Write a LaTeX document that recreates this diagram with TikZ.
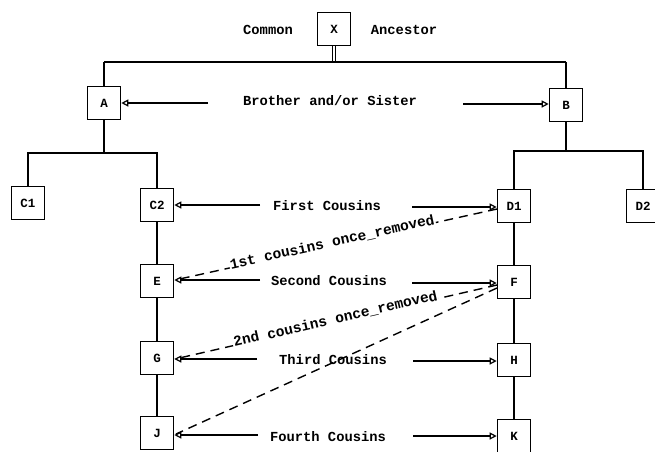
\documentclass[tikz,border=0pt]{standalone}
\usepackage{fontspec}
\setmainfont{Liberation Mono}
\usetikzlibrary{arrows.meta}
\tikzset{
  person/.style={draw, line width=1.6pt, minimum size=33pt, inner sep=0pt, font=\bfseries\fontsize{12.5}{15}\selectfont},
  tree/.style={line width=1.6pt},
  lbl/.style={inner sep=1pt, font=\bfseries\fontsize{13.8}{16}\selectfont},
  arr/.style={line width=1.4pt, -{Triangle[open, length=7pt, width=7pt, line width=1.2pt]}},
  rel/.style={line width=1.4pt, dash pattern=on 9pt off 6pt},
  rellbl/.style={sloped, fill=white, inner sep=1pt, yshift=3pt, font=\bfseries\fontsize{14.5}{16}\selectfont}
}
\begin{document}
\begin{tikzpicture}[x=1pt,y=-1pt]
\useasboundingbox (0,0) rectangle (655,451);
\fill[white] (0,0) rectangle (655,451);
% people
\node[person] (X) at (334,29) {X};
\node[person] (A) at (104,103) {A};
\node[person] (B) at (566,105) {B};
\node[person] (C1) at (28,203) {C1};
\node[person] (C2) at (157,205) {C2};
\node[person] (D1) at (514,206) {D1};
\node[person] (D2) at (643,206) {D2};
\node[person] (E) at (157,281) {E};
\node[person] (F) at (514,282) {F};
\node[person] (G) at (157,358) {G};
\node[person] (H) at (514,360) {H};
\node[person] (J) at (157,433) {J};
\node[person] (K) at (514,436) {K};
% titles
\node[lbl] (common) at (268,30) {Common};
\node[lbl] (ancestor) at (404,30) {Ancestor};
\node[lbl] (sib) at (330,101) {Brother and/or Sister};
\node[lbl] (first) at (327,206) {First Cousins};
\node[lbl] (second) at (329,281) {Second Cousins};
\node[lbl] (third) at (333,360) {Third Cousins};
\node[lbl] (fourth) at (328,437) {Fourth Cousins};
% tree coordinates
\coordinate (xb) at (334,62);
\coordinate (tl) at (104,62);
\coordinate (tr) at (566,62);
\coordinate (ab) at (104,153);
\coordinate (al) at (28,153);
\coordinate (ar) at (157,153);
\coordinate (bb) at (566,151);
\coordinate (bl) at (514,151);
\coordinate (br) at (643,151);
% tree lines
\draw[line width=1pt, double, double distance=2.5pt] (X.south) -- (xb);
\draw[tree] (tl) -- (tr);
\draw[tree] (tl) -- (A.north);
\draw[tree] (tr) -- (B.north);
\draw[tree] (A.south) -- (ab);
\draw[tree] (C1.north) |- (al) -- (ar) -- (C2.north);
\draw[tree] (B.south) -- (bb);
\draw[tree] (D1.north) |- (bl) -- (br) -- (D2.north);
\draw[tree] (C2.south) -- (E.north);
\draw[tree] (E.south) -- (G.north);
\draw[tree] (G.south) -- (J.north);
\draw[tree] (D1.south) -- (F.north);
\draw[tree] (F.south) -- (H.north);
\draw[tree] (H.south) -- (K.north);
% arrow start points
\coordinate (sA) at (208,103);
\coordinate (sB) at (463,104);
\coordinate (sC2) at (260,205);
\coordinate (sD1) at (412,207);
\coordinate (sE) at (260,280);
\coordinate (sF) at (412,283);
\coordinate (sG) at (257,359);
\coordinate (sH) at (413,361);
\coordinate (sJ) at (258,435);
\coordinate (sK) at (413,436);
\draw[arr] (sA) -- (sA -| A.east);
\draw[arr] (sB) -- (sB -| B.west);
\draw[arr] (sC2) -- (sC2 -| C2.east);
\draw[arr] (sD1) -- (sD1 -| D1.west);
\draw[arr] (sE) -- (sE -| E.east);
\draw[arr] (sF) -- (sF -| F.west);
\draw[arr] (sG) -- (sG -| G.east);
\draw[arr] (sH) -- (sH -| H.west);
\draw[arr] (sJ) -- (sJ -| J.east);
\draw[arr] (sK) -- (sK -| K.west);
% once removed
\coordinate (dD1) at (497,209);
\coordinate (dE) at (175,280);
\coordinate (dF1) at (497,285);
\coordinate (dG) at (175,359);
\coordinate (dF2) at (497,288);
\coordinate (dJ) at (176,434);
\draw[rel] (dD1) -- node[rellbl, pos=0.51] {1st cousins once\_removed} (dE);
\draw[rel] (dF1) -- node[rellbl, pos=0.5] {2nd cousins once\_removed} (dG);
\draw[rel] (dF2) -- (dJ);
\end{tikzpicture}
\end{document}
